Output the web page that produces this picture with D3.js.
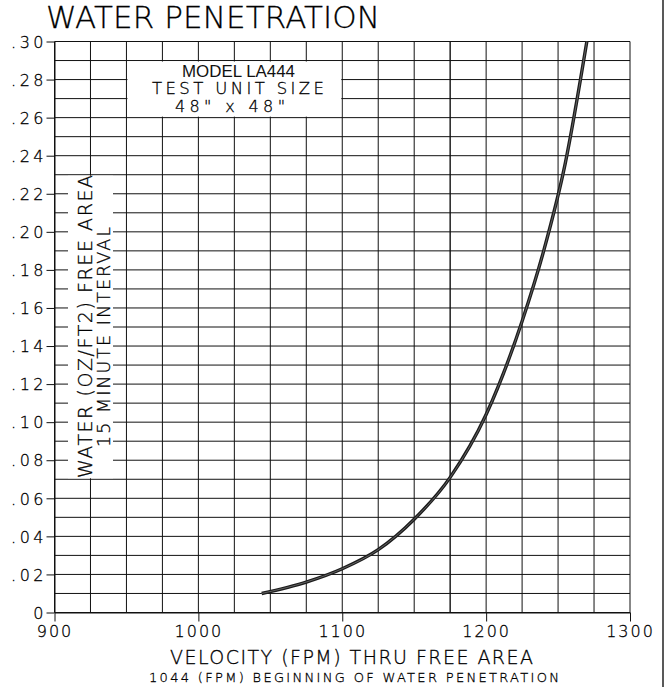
<!DOCTYPE html>
<html>
<head>
<meta charset="utf-8">
<script src="https://cdn.jsdelivr.net/npm/d3@7"></script>
<style>
  html,body{margin:0;padding:0;background:#fff;}
  svg{display:block;}
  .cad{font-family:"DejaVu Sans",sans-serif;font-weight:200;fill:#000;stroke:#000;stroke-width:0.3px;}
</style>
</head>
<body>
<svg id="chart" width="667" height="687"></svg>
<script>
// ---- data ----
const velocity = [1044, 1075, 1100, 1125, 1150, 1175, 1200, 1225, 1240, 1255, 1270];
const water    = [0.010, 0.016, 0.023, 0.033, 0.049, 0.071, 0.104, 0.153, 0.190, 0.236, 0.300];
const xTicks = [900, 1000, 1100, 1200, 1300];
const xTickLabels = ["900", "1000", "1100", "1200", "1300"];
const yTicks = [0, 0.02, 0.04, 0.06, 0.08, 0.10, 0.12, 0.14, 0.16, 0.18, 0.20, 0.22, 0.24, 0.26, 0.28, 0.30];
const yTickLabels = ["0", ".02", ".04", ".06", ".08", ".10", ".12", ".14", ".16", ".18", ".20", ".22", ".24", ".26", ".28", ".30"];
const xGrid = d3.range(900, 1301, 25);
const yGrid = d3.range(0, 31, 1).map(d => d / 100);
const titleText = "WATER PENETRATION";
const boxLines = ["MODEL LA444", "TEST UNIT SIZE", "48\" x 48\""];
const yLabelLines = ["WATER (OZ/FT2) FREE AREA", "15 MINUTE INTERVAL"];
const xLabelLines = ["VELOCITY (FPM) THRU FREE AREA", "1044 (FPM) BEGINNING OF WATER PENETRATION"];

const svg = d3.select("#chart");
const x = d3.scaleLinear().domain([900, 1300]).range([54.5, 630]);
const y = d3.scaleLinear().domain([0, 0.30]).range([612.5, 41.5]);

// page border on right
svg.append("line").attr("x1", 663).attr("x2", 663).attr("y1", 0).attr("y2", 687)
  .attr("stroke", "#222").attr("stroke-width", 1.5);

// grid
const g = svg.append("g");
g.selectAll("line.v").data(xGrid).join("line")
  .attr("x1", d => x(d)).attr("x2", d => x(d))
  .attr("y1", y(0)).attr("y2", y(0.30))
  .attr("stroke", "#111")
  .attr("stroke-width", d => d === 1175 ? 1.4 : 1);
g.selectAll("line.h").data(yGrid).join("line")
  .attr("x1", x(900)).attr("x2", x(1300))
  .attr("y1", d => y(d)).attr("y2", d => y(d))
  .attr("stroke", "#111").attr("stroke-width", 1);

// white areas (model box, y-label area)
svg.append("rect")
  .attr("x", x(950) + 1).attr("y", y(0.29) + 1)
  .attr("width", x(1100) - x(950) - 2).attr("height", y(0.26) - y(0.29) - 2)
  .attr("fill", "#fff");
svg.append("rect")
  .attr("x", 68).attr("y", y(0.23) + 1)
  .attr("width", 45).attr("height", y(0.07) - y(0.23) - 2)
  .attr("fill", "#fff");

// axes
const yAxis = d3.axisLeft(y).tickValues(yTicks).tickSize(8).tickSizeOuter(0)
  .tickFormat((d, i) => yTickLabels[i]);
const ya = svg.append("g").attr("transform", `translate(${x(900)},0)`).call(yAxis);
ya.select(".domain").attr("stroke", "#111");
ya.selectAll(".tick line").attr("stroke", "#111");
ya.selectAll(".tick text").attr("class", "cad").attr("font-size", 16)
  .attr("x", -7.5).attr("dy", "0.36em").attr("letter-spacing", 3.5);

const xAxis = d3.axisBottom(x).tickValues(xTicks).tickSize(9).tickSizeOuter(0)
  .tickFormat((d, i) => xTickLabels[i]);
const xa = svg.append("g").attr("transform", `translate(0,${y(0)})`).call(xAxis);
xa.select(".domain").attr("stroke", "#111");
xa.selectAll(".tick line").attr("stroke", "#111");
xa.selectAll(".tick text").attr("class", "cad").attr("font-size", 16)
  .attr("y", 24.5).attr("dy", 0).attr("letter-spacing", 2);

// curve
const line = d3.line().x((d, i) => x(velocity[i])).y(d => y(d)).curve(d3.curveMonotoneX);
svg.append("path").attr("d", line(water)).attr("fill", "none")
  .attr("stroke", "#1c1c1c").attr("stroke-width", 3.4);
svg.append("path").attr("d", line(water)).attr("fill", "none")
  .attr("stroke", "#6a6a6a").attr("stroke-width", 0.9);

// title
svg.append("text").attr("class", "cad").attr("x", 46).attr("y", 28)
  .attr("font-size", 31).attr("textLength", 334).attr("lengthAdjust", "spacing")
  .text(titleText);

// box text
svg.append("text").attr("x", 182).attr("y", 76.7)
  .attr("font-family", "Liberation Sans, Arial, sans-serif").attr("font-size", 16)
  .attr("fill", "#111").attr("textLength", 113).attr("lengthAdjust", "spacingAndGlyphs")
  .text(boxLines[0]);
svg.append("text").attr("class", "cad").attr("x", 152).attr("y", 94.3)
  .attr("font-size", 16.5).attr("textLength", 172).attr("lengthAdjust", "spacing")
  .text(boxLines[1]);
svg.append("text").attr("class", "cad").attr("x", 175).attr("y", 111.7)
  .attr("font-size", 16).attr("textLength", 110).attr("lengthAdjust", "spacing")
  .text(boxLines[2]);

// y label (rotated)
svg.append("text").attr("class", "cad")
  .attr("transform", "translate(92,478) rotate(-90)")
  .attr("font-size", 19).attr("textLength", 303).attr("lengthAdjust", "spacing")
  .text(yLabelLines[0]);
svg.append("text").attr("class", "cad")
  .attr("transform", "translate(110,447) rotate(-90)")
  .attr("font-size", 17.5).attr("textLength", 220).attr("lengthAdjust", "spacing")
  .text(yLabelLines[1]);

// x labels
svg.append("text").attr("class", "cad").attr("x", 170).attr("y", 664)
  .attr("font-size", 19).attr("textLength", 363).attr("lengthAdjust", "spacing")
  .text(xLabelLines[0]);
svg.append("text").attr("class", "cad").attr("x", 149).attr("y", 682)
  .attr("font-size", 13).attr("textLength", 410).attr("lengthAdjust", "spacing")
  .text(xLabelLines[1]);
</script>
</body>
</html>
